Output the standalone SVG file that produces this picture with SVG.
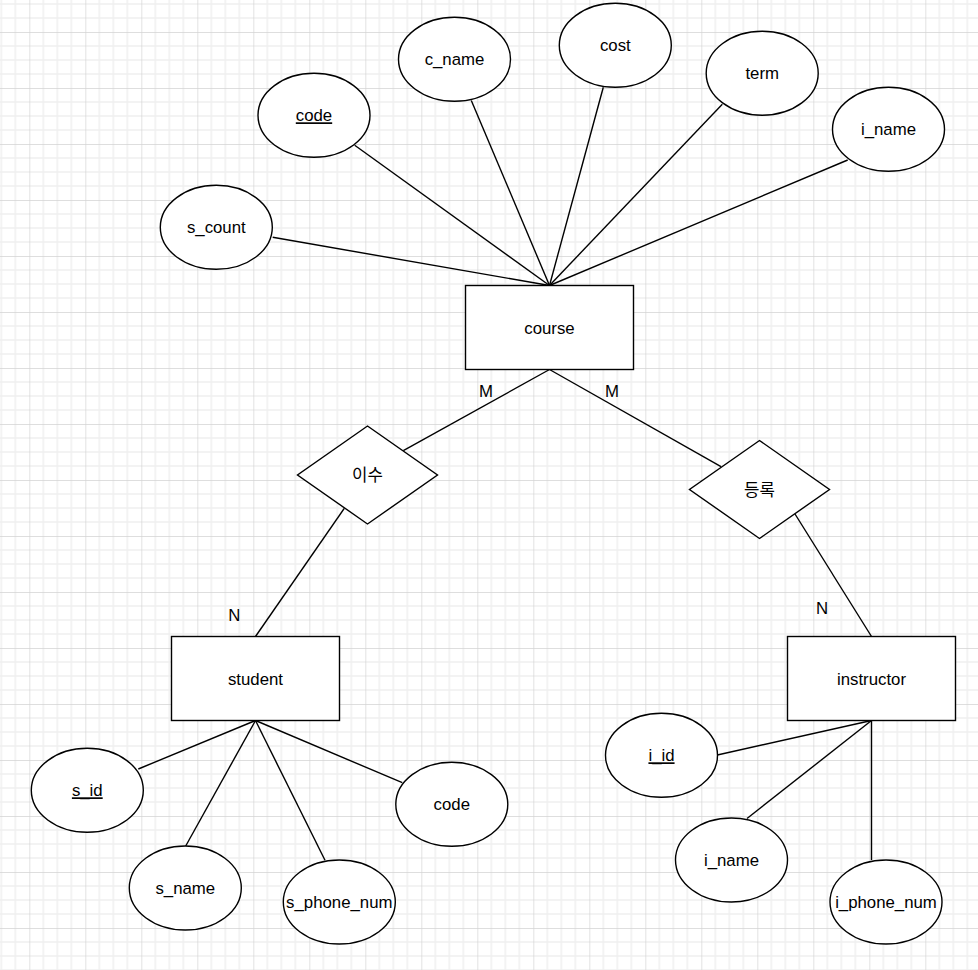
<svg xmlns="http://www.w3.org/2000/svg" width="978" height="970" viewBox="0 0 978 970">
<defs>
<pattern id="grid" patternUnits="userSpaceOnUse" x="29.3" y="32" width="56" height="56">
<path d="M14 0V56M28 0V56M42 0V56M0 14H56M0 28H56M0 42H56" stroke="#f0f0f0" stroke-width="1.6" fill="none"/>
<path d="M0 0V56M0 0H56" stroke="#d3d3d3" stroke-width="1.3" fill="none"/>
</pattern>
<style>
.s{fill:#fff;stroke:#000;stroke-width:1.4}
.e{stroke:#000;stroke-width:1.4;fill:none}
text{font-family:"Liberation Sans",Arial,sans-serif;font-size:16.8px;fill:#000;text-anchor:middle}
.k{font-family:"Noto Sans CJK KR","Liberation Sans",sans-serif}
.u{text-decoration:underline}
</style>
</defs>
<rect width="978" height="970" fill="#fff"/>
<rect width="978" height="970" fill="url(#grid)"/>
<g id="connectors">
<line class="e" x1="272.7" y1="237.3" x2="549.5" y2="285.5"/>
<line class="e" x1="354.7" y1="145.3" x2="549.5" y2="285.5"/>
<line class="e" x1="471.3" y1="100.5" x2="549.5" y2="285.5"/>
<line class="e" x1="603.3" y1="87.3" x2="549.5" y2="285.5"/>
<line class="e" x1="722.3" y1="104.3" x2="549.5" y2="285.5"/>
<line class="e" x1="847.7" y1="160" x2="549.5" y2="285.5"/>
<line class="e" x1="549.5" y1="369.5" x2="403.3" y2="450.7"/>
<line class="e" x1="344.3" y1="508.3" x2="255.5" y2="636.5"/>
<line class="e" x1="549.5" y1="369.5" x2="721" y2="466.7"/>
<line class="e" x1="795" y1="514" x2="871.5" y2="636.5"/>
<line class="e" x1="255.5" y1="720.5" x2="138.3" y2="769"/>
<line class="e" x1="255.5" y1="720.5" x2="185.7" y2="846"/>
<line class="e" x1="255.5" y1="720.5" x2="325" y2="860.3"/>
<line class="e" x1="255.5" y1="720.5" x2="402.3" y2="782.7"/>
<line class="e" x1="871.5" y1="720.5" x2="717.3" y2="755"/>
<line class="e" x1="871.5" y1="720.5" x2="747" y2="818.5"/>
<line class="e" x1="871.5" y1="720.5" x2="871.5" y2="860"/>
<text x="486" y="397">M</text>
<text x="612" y="397">M</text>
<text x="234.3" y="621">N</text>
<text x="822" y="614">N</text>
</g>
<g id="course"><rect class="s" x="465.5" y="285.5" width="168" height="84"/><text x="549.5" y="334">course</text></g>
<g id="student"><rect class="s" x="171.5" y="636.5" width="168" height="84"/><text x="255.5" y="684.5">student</text></g>
<g id="instructor"><rect class="s" x="787.5" y="636.5" width="168" height="84"/><text x="871.5" y="684.5">instructor</text></g>
<g id="isu"><polygon class="s" points="367.5,426 437.5,475 367.5,524 297.5,475"/><text class="k" x="367.5" y="481">이수</text></g>
<g id="deungrok"><polygon class="s" points="759.5,440.5 829.5,489.5 759.5,538.5 689.5,489.5"/><text class="k" x="759.5" y="495.5">등록</text></g>
<g id="code"><ellipse class="s" cx="314" cy="115.3" rx="56" ry="42"/><text class="u" x="314" y="121.3">code</text></g>
<g id="c_name"><ellipse class="s" cx="454.5" cy="59.3" rx="56" ry="42"/><text x="454.5" y="65.3">c_name</text></g>
<g id="cost"><ellipse class="s" cx="615.3" cy="45.3" rx="56" ry="42"/><text x="615.3" y="51.3">cost</text></g>
<g id="term"><ellipse class="s" cx="762.2" cy="73.2" rx="56" ry="42"/><text x="762.2" y="79.2">term</text></g>
<g id="i_name_c"><ellipse class="s" cx="888.5" cy="129.3" rx="56" ry="42"/><text x="888.5" y="135.3">i_name</text></g>
<g id="s_count"><ellipse class="s" cx="216.3" cy="227.3" rx="56" ry="42"/><text x="216.3" y="233.3">s_count</text></g>
<g id="s_id"><ellipse class="s" cx="87.3" cy="790.3" rx="56" ry="42"/><text class="u" x="87.3" y="796.3">s_id</text></g>
<g id="s_name"><ellipse class="s" cx="185.3" cy="888" rx="56" ry="42"/><text x="185.3" y="894">s_name</text></g>
<g id="s_phone_num"><ellipse class="s" cx="339.3" cy="902" rx="56" ry="42"/><text x="339.3" y="908">s_phone_num</text></g>
<g id="code_s"><ellipse class="s" cx="451.8" cy="804.3" rx="56" ry="42"/><text x="451.8" y="810.3">code</text></g>
<g id="i_id"><ellipse class="s" cx="661.5" cy="755.3" rx="56" ry="42"/><text class="u" x="661.5" y="761.3">i_id</text></g>
<g id="i_name"><ellipse class="s" cx="731.5" cy="860" rx="56" ry="42"/><text x="731.5" y="866">i_name</text></g>
<g id="i_phone_num"><ellipse class="s" cx="886" cy="902" rx="56" ry="42"/><text x="886" y="908">i_phone_num</text></g>
</svg>
